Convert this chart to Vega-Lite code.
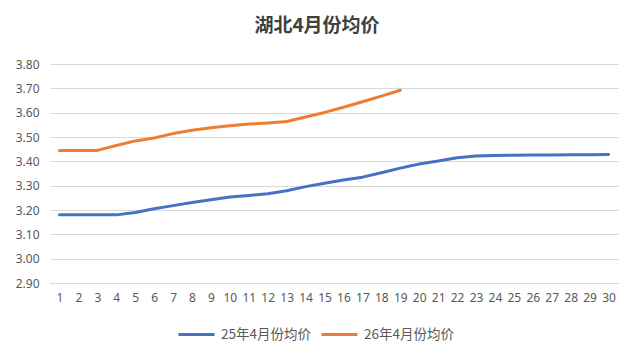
{
  "$schema": "https://vega.github.io/schema/vega-lite/v6.json",
  "width": 568,
  "height": 219,
  "autosize": {"type": "none"},
  "padding": {"left": 50, "top": 64, "right": 17, "bottom": 79},
  "background": "white",
  "title": {
    "text": "湖北4月份均价",
    "font": "Noto Sans CJK SC",
    "fontSize": 19,
    "fontWeight": "bold",
    "color": "#404040",
    "anchor": "middle",
    "dx": -17,
    "offset": 22
  },
  "data": {
    "values": [
      {"day": 1, "series": "25年4月份均价", "price": 3.18},
      {"day": 2, "series": "25年4月份均价", "price": 3.18},
      {"day": 3, "series": "25年4月份均价", "price": 3.18},
      {"day": 4, "series": "25年4月份均价", "price": 3.18},
      {"day": 5, "series": "25年4月份均价", "price": 3.19},
      {"day": 6, "series": "25年4月份均价", "price": 3.205},
      {"day": 7, "series": "25年4月份均价", "price": 3.218},
      {"day": 8, "series": "25年4月份均价", "price": 3.231},
      {"day": 9, "series": "25年4月份均价", "price": 3.242},
      {"day": 10, "series": "25年4月份均价", "price": 3.253},
      {"day": 11, "series": "25年4月份均价", "price": 3.26},
      {"day": 12, "series": "25年4月份均价", "price": 3.267},
      {"day": 13, "series": "25年4月份均价", "price": 3.279},
      {"day": 14, "series": "25年4月份均价", "price": 3.296},
      {"day": 15, "series": "25年4月份均价", "price": 3.31},
      {"day": 16, "series": "25年4月份均价", "price": 3.323},
      {"day": 17, "series": "25年4月份均价", "price": 3.335},
      {"day": 18, "series": "25年4月份均价", "price": 3.353},
      {"day": 19, "series": "25年4月份均价", "price": 3.372},
      {"day": 20, "series": "25年4月份均价", "price": 3.389},
      {"day": 21, "series": "25年4月份均价", "price": 3.401},
      {"day": 22, "series": "25年4月份均价", "price": 3.415},
      {"day": 23, "series": "25年4月份均价", "price": 3.422},
      {"day": 24, "series": "25年4月份均价", "price": 3.424},
      {"day": 25, "series": "25年4月份均价", "price": 3.425},
      {"day": 26, "series": "25年4月份均价", "price": 3.426},
      {"day": 27, "series": "25年4月份均价", "price": 3.426},
      {"day": 28, "series": "25年4月份均价", "price": 3.427},
      {"day": 29, "series": "25年4月份均价", "price": 3.427},
      {"day": 30, "series": "25年4月份均价", "price": 3.428},
      {"day": 1, "series": "26年4月份均价", "price": 3.445},
      {"day": 2, "series": "26年4月份均价", "price": 3.445},
      {"day": 3, "series": "26年4月份均价", "price": 3.445},
      {"day": 4, "series": "26年4月份均价", "price": 3.465},
      {"day": 5, "series": "26年4月份均价", "price": 3.484},
      {"day": 6, "series": "26年4月份均价", "price": 3.496},
      {"day": 7, "series": "26年4月份均价", "price": 3.514},
      {"day": 8, "series": "26年4月份均价", "price": 3.528},
      {"day": 9, "series": "26年4月份均价", "price": 3.538},
      {"day": 10, "series": "26年4月份均价", "price": 3.546},
      {"day": 11, "series": "26年4月份均价", "price": 3.553},
      {"day": 12, "series": "26年4月份均价", "price": 3.558},
      {"day": 13, "series": "26年4月份均价", "price": 3.564},
      {"day": 14, "series": "26年4月份均价", "price": 3.582},
      {"day": 15, "series": "26年4月份均价", "price": 3.601},
      {"day": 16, "series": "26年4月份均价", "price": 3.622},
      {"day": 17, "series": "26年4月份均价", "price": 3.645},
      {"day": 18, "series": "26年4月份均价", "price": 3.668},
      {"day": 19, "series": "26年4月份均价", "price": 3.692}
    ]
  },
  "mark": {"type": "line", "strokeWidth": 3, "strokeCap": "round", "strokeJoin": "round"},
  "encoding": {
    "x": {
      "field": "day",
      "type": "ordinal",
      "sort": "ascending",
      "scale": {"type": "point", "padding": 0.5},
      "axis": {
        "title": null,
        "labelAngle": 0,
        "ticks": false,
        "grid": false,
        "domain": true,
        "domainColor": "#d9d9d9",
        "domainWidth": 1,
        "labelFont": "Noto Sans",
        "labelFontSize": 12,
        "labelColor": "#595959",
        "labelPadding": 9
      }
    },
    "y": {
      "field": "price",
      "type": "quantitative",
      "scale": {"domain": [2.9, 3.8], "nice": false, "zero": false},
      "axis": {
        "title": null,
        "values": [2.9, 3.0, 3.1, 3.2, 3.3, 3.4, 3.5, 3.6, 3.7, 3.8],
        "format": ".2f",
        "ticks": false,
        "domain": false,
        "grid": true,
        "gridColor": "#d9d9d9",
        "gridWidth": 1,
        "labelFont": "Noto Sans",
        "labelFontSize": 12,
        "labelColor": "#595959",
        "labelPadding": 11
      }
    },
    "color": {
      "field": "series",
      "type": "nominal",
      "scale": {"domain": ["25年4月份均价", "26年4月份均价"], "range": ["#4472C4", "#ED7D31"]},
      "legend": {
        "title": null,
        "orient": "none",
        "legendX": 127,
        "legendY": 251,
        "direction": "horizontal",
        "symbolType": "stroke",
        "symbolSize": 1296,
        "symbolStrokeWidth": 3,
        "labelFont": "Noto Sans CJK SC",
        "labelFontSize": 13.5,
        "labelColor": "#595959",
        "columnPadding": 4,
        "labelOffset": 5
      }
    }
  },
  "config": {"view": {"stroke": null}}
}
